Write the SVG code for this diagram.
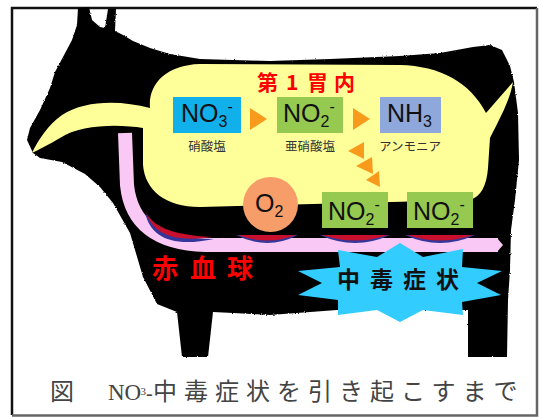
<svg xmlns="http://www.w3.org/2000/svg" width="539" height="417" viewBox="0 0 539 417">
  <style>
    .chem { font-family: "Liberation Sans", Arial, sans-serif; font-size: 25px; fill: #111; }
    .sub { font-size: 16px; }
    .jp { font-family: "Noto Sans CJK JP", sans-serif; }
    .lbl { font-family: "Noto Sans CJK JP", sans-serif; font-size: 12.5px; fill: #333; text-anchor: middle; }
    .red { font-family: "Noto Sans CJK JP", sans-serif; font-weight: bold; fill: #ff0000; }
    .arrow { fill: #f89a1c; }
    .cellShade { fill: #34369a; }
    .cellBody { fill: #c8102e; }
  </style>
  <defs>
    <!-- ragged outline for the silhouette -->
    <filter id="rough" x="-5%" y="-5%" width="110%" height="110%">
      <feTurbulence type="fractalNoise" baseFrequency="0.9" numOctaves="1" seed="3" result="noise"/>
      <feDisplacementMap in="SourceGraphic" in2="noise" scale="2.5" xChannelSelector="R" yChannelSelector="G"/>
    </filter>
  </defs>

  <rect width="539" height="417" fill="#ffffff"/>

  <!-- frame -->
  <path d="M12,415 L12,8 L537,8" fill="none" stroke="#111" stroke-width="2.5"/>
  <path d="M537,8 L537,415.5 L12,415.5" fill="none" stroke="#666" stroke-width="2.5"/>

  <!-- cow silhouette -->
  <g id="cow">
    <path fill="#000" filter="url(#rough)" d="M33,153 L27,140 L30,128 L40,110 L50,88 L55,72 L63,57 L72,40 L77,25 L78,8 L89,7 L92,20 L100,27 L105,28 L108,9 L116,9 L115,31 L123,35 L133,41 L150,48 L170,54 L200,59 L270,61 L330,59 L400,56 L440,53 L473,47 L490,45 L502,50 L510,66 L514,82 L518,113 L519,160 L515,200 L511,230 L510,270 L508,300 L507,357 L468,357 L468,310 L337,310 L270,315 L213,312 L208,357 L182,357 L177,312 L157,304 L143,277 L130,233 L113,203 L100,187 L85,174 L62,162 L40,158 Z"/>
  </g>

  <!-- first stomach -->
  <g id="rumen">
    <path fill="#ffff99" d="M150,108 C148,85 165,65 200,64 L400,65 C440,66 470,82 486,113 L513,82 C510,100 500,118 490,138 L488,168 Q486,195 470,200 L200,207 C165,207 145,190 143,165 L143,128 C120,124 80,124 60,138 C48,145 38,150 32,153 C38,140 48,125 62,115 C85,100 120,100 150,108 Z"/>
    <text class="red" font-size="21" x="257" y="90">第</text>
    <text class="red" font-size="21" x="286" y="90">1</text>
    <text class="red" font-size="21" x="307" y="90">胃</text>
    <text class="red" font-size="21" x="334" y="90">内</text>
  </g>

  <!-- blood vessel -->
  <g id="vessel">
    <path d="M125,133 L127,185 Q133,243 205,245 L498,245" fill="none" stroke="#f9c8f5" stroke-width="14"/>
    <polygon points="497,238 503,245 497,252" fill="#f9c8f5"/>
  </g>

  <!-- red blood cells -->
  <g id="cells">
    <path class="cellShade" d="M145,212 C151,226 168,238 214,239 C172,248 150,237 145,212 Z"/>
    <path class="cellBody" d="M146,212 C152,225 169,235 212,237 C173,243 152,233 146,212 Z"/>
    <path class="cellShade" d="M236,235 Q267,251 298,235 Z"/>
    <path class="cellBody" d="M238,235 Q267,246 296,235 Z"/>
    <path class="cellShade" d="M320,235 Q355,251 390,235 Z"/>
    <path class="cellBody" d="M322,235 Q355,246 388,235 Z"/>
    <path class="cellShade" d="M405,235 Q440,251 475,235 Z"/>
    <path class="cellBody" d="M407,235 Q440,246 473,235 Z"/>
  </g>

  <!-- nodes -->
  <g id="no3">
    <rect x="173" y="97" width="68" height="36" fill="#12b0ea"/>
    <text class="chem" x="181" y="122">NO<tspan class="sub" dy="5">3</tspan><tspan class="sub" dy="-15">-</tspan></text>
    <text class="lbl" x="207" y="151">硝酸塩</text>
  </g>
  <g id="no2">
    <rect x="277" y="97" width="66" height="36" fill="#95c94f"/>
    <text class="chem" x="283" y="122">NO<tspan class="sub" dy="5">2</tspan><tspan class="sub" dy="-15">-</tspan></text>
    <text class="lbl" x="310" y="151">亜硝酸塩</text>
  </g>
  <g id="nh3">
    <rect x="380" y="97" width="61" height="36" fill="#8ea8db"/>
    <text class="chem" x="387" y="122">NH<tspan class="sub" dy="5">3</tspan></text>
    <text class="lbl" x="410" y="151">アンモニア</text>
  </g>
  <g id="o2">
    <circle cx="270.5" cy="204.5" r="27.5" fill="#f79d6a"/>
    <text class="chem" x="255" y="212">O<tspan class="sub" dy="5">2</tspan></text>
  </g>
  <g id="no2-a">
    <rect x="322" y="192" width="66" height="36" fill="#95c94f"/>
    <text class="chem" x="328" y="220">NO<tspan class="sub" dy="5">2</tspan><tspan class="sub" dy="-15">-</tspan></text>
  </g>
  <g id="no2-b">
    <rect x="407" y="192" width="66" height="36" fill="#95c94f"/>
    <text class="chem" x="413" y="220">NO<tspan class="sub" dy="5">2</tspan><tspan class="sub" dy="-15">-</tspan></text>
  </g>

  <!-- arrows -->
  <g id="connectors">
    <polygon class="arrow" points="250,108 267,119 250,130"/>
    <polygon class="arrow" points="353,108 370,119 353,130"/>
    <polygon class="arrow" points="348,151 364,142 364,159"/>
    <polygon class="arrow" points="356,166 372,157 373,174"/>
    <polygon class="arrow" points="366,180 379,171 380,187"/>
  </g>

  <!-- red blood cell label -->
  <g id="rbc-label">
    <text class="red" font-size="26" x="152" y="278">赤</text>
    <text class="red" font-size="26" x="190" y="278">血</text>
    <text class="red" font-size="26" x="227" y="278">球</text>
  </g>

  <!-- poisoning burst -->
  <g id="symptoms">
    <polygon fill="#33ccff" points="400,243 423,257 463,249 462,267 502,271 477,283 501,295 462,302 463,315 423,310 400,322 377,310 338,315 338,300 298,295 322,283 298,271 340,267 338,250 377,257"/>
    <g class="jp" font-size="23" font-weight="bold" fill="#111">
      <text x="337" y="288">中</text>
      <text x="370" y="288">毒</text>
      <text x="403" y="288">症</text>
      <text x="436" y="288">状</text>
    </g>
  </g>

  <!-- caption -->
  <g id="caption" fill="#444">
    <text x="50" y="400" font-family="Noto Sans CJK JP, sans-serif" font-size="24">図</text>
    <text x="108" y="400" font-family="Liberation Serif, serif" font-size="23">NO</text>
    <text x="140.5" y="395" font-family="Liberation Serif, serif" font-size="11">3</text>
    <text x="146" y="400" font-family="Liberation Serif, serif" font-size="20">-</text>
    <text x="153" y="400" font-family="Noto Sans CJK JP, sans-serif" font-size="24" letter-spacing="7">中毒症状を引き起こすまで</text>
  </g>
</svg>
